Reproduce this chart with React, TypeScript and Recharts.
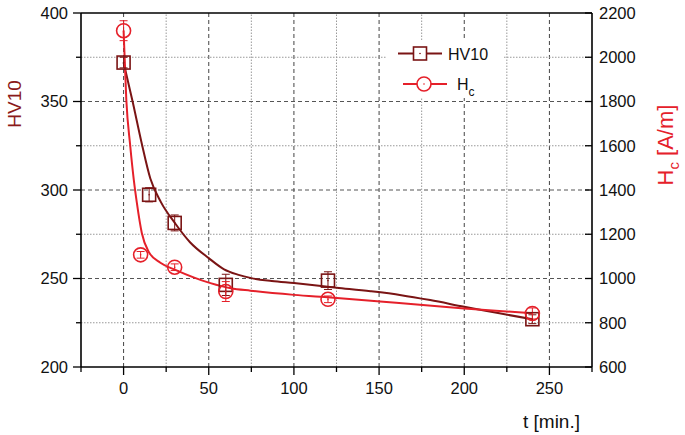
import React from 'react';
import { ComposedChart, Line, Scatter, ErrorBar, XAxis, YAxis, ReferenceLine } from 'recharts';

// measured points
const hvTimes = [0, 15, 30, 60, 120, 240];
const hvValues = [372, 297.3, 281.4, 246.4, 248.8, 227];
const hvErrors = [3, 4, 4.5, 6, 5, 2.5];

const hcTimes = [0, 10, 30, 60, 120, 240];
const hcValues = [2120, 1107, 1051, 941, 906, 842];
const hcErrors = [45, 15, 15, 45, 15, 25];

// fitted curves
const hvFitTimes = [0, 5.3, 10.5, 15.7, 22, 30, 39, 50, 59, 67, 75, 87, 100, 125, 145, 163, 180, 200, 240];
const hvFitValues = [372, 350, 327, 306.5, 293, 281.5, 270.5, 261.5, 255.2, 252.2, 250.2, 248.6, 247.4, 244.8, 242.8, 240.6, 237.8, 234, 227];

const hcFitTimes = [0, 1.6, 3.9, 6, 7.8, 10.7, 14.8, 21.6, 30.4, 51, 63, 74.5, 100, 121.6, 160, 200, 240];
const hcFitValues = [2120, 1808, 1600, 1446, 1342, 1206, 1120, 1071, 1039, 979, 956, 945, 926, 914, 890, 864, 843];

const xTicks = [-25, 0, 25, 50, 75, 100, 125, 150, 175, 200, 225, 250, 275];
const hvTicks = [200, 225, 250, 275, 300, 325, 350, 375, 400];
const hcTicks = [600, 800, 1000, 1200, 1400, 1600, 1800, 2000, 2200];
const xGridMajor = [0, 50, 100, 150, 200, 250];
const xGridMinor = [25, 75, 125, 175, 225];
const yGridMajor = [250, 300, 350];
const yGridMinor = [225, 275, 325, 375];

const HV_COLOR = '#7a1414';
const HC_COLOR = '#e5202a';
const FONT = '"Liberation Sans", Arial, sans-serif';
const TICK_FONT = 16.5;

const hvPoints = hvTimes.map((t, i) => ({ t, hv: hvValues[i], err: hvErrors[i] }));
const hcPoints = hcTimes.map((t, i) => ({ t, hc: hcValues[i], err: hcErrors[i] }));
const hvFit = hvFitTimes.map((t, i) => ({ t, hv: hvFitValues[i] }));
const hcFit = hcFitTimes.map((t, i) => ({ t, hc: hcFitValues[i] }));

const LeftTick = (props: any) => {
  const { x, y, payload } = props;
  const major = payload.value % 50 === 0;
  return (
    <g>
      <line x1={x} x2={x - (major ? 8 : 5)} y1={y} y2={y} stroke="#000" strokeWidth={1.3} />
      {major && (
        <text x={x - 13} y={y} dy="0.36em" textAnchor="end" fontSize={TICK_FONT} fontFamily={FONT} fill="#111">
          {payload.value}
        </text>
      )}
    </g>
  );
};

const RightTick = (props: any) => {
  const { x, y, payload } = props;
  return (
    <g>
      <line x1={x} x2={x - 7} y1={y} y2={y} stroke="#000" strokeWidth={1.3} />
      <text x={x + 7} y={y} dy="0.36em" textAnchor="start" fontSize={TICK_FONT} fontFamily={FONT} fill="#111">
        {payload.value}
      </text>
    </g>
  );
};

const BottomTick = (props: any) => {
  const { x, y, payload } = props;
  const v = payload.value;
  const major = v % 50 === 0;
  const labelled = major && v >= 0 && v <= 250;
  return (
    <g>
      <line x1={x} x2={x} y1={y} y2={y + (major ? 8 : 5)} stroke="#000" strokeWidth={1.3} />
      {labelled && (
        <text x={x} y={y + 21} dy="0.36em" textAnchor="middle" fontSize={TICK_FONT} fontFamily={FONT} fill="#111">
          {v}
        </text>
      )}
    </g>
  );
};

const SquareMark = (props: any) => {
  const { cx, cy } = props;
  return (
    <g>
      <rect x={cx - 6.5} y={cy - 6.5} width={13} height={13} fill="none" stroke={HV_COLOR} strokeWidth={1.6} />
      <circle cx={cx} cy={cy} r={0.8} fill={HV_COLOR} />
    </g>
  );
};

const CircleMark = (props: any) => {
  const { cx, cy } = props;
  return (
    <g>
      <circle cx={cx} cy={cy} r={7} fill="none" stroke={HC_COLOR} strokeWidth={1.6} />
      <circle cx={cx} cy={cy} r={0.8} fill={HC_COLOR} />
    </g>
  );
};

const Overlay = () => (
  <svg width={685} height={435} style={{ position: 'absolute', left: 0, top: 0, pointerEvents: 'none' }}>
    <text transform="translate(21,104) rotate(-90)" textAnchor="middle" fontSize={19} fontFamily={FONT} fill="#8b1a1a">
      HV10
    </text>
    <text transform="translate(673,145) rotate(-90)" textAnchor="middle" fontSize={22} fontFamily={FONT} fill={HC_COLOR}>
      H<tspan fontSize={15} dy={6}>c</tspan>
      <tspan dy={-6}> [A/m]</tspan>
    </text>
    <text x={580} y={428} textAnchor="end" fontSize={19} fontFamily={FONT} fill="#111">
      t [min.]
    </text>

    <rect x={386} y={40} width={117} height={58} fill="#fff" />
    <line x1={398} x2={442} y1={53.5} y2={53.5} stroke={HV_COLOR} strokeWidth={2} />
    <rect x={413.5} y={47} width={13} height={13} fill="#fff" stroke={HV_COLOR} strokeWidth={1.6} />
    <circle cx={420} cy={53.5} r={0.8} fill={HV_COLOR} />
    <text x={448} y={54} dy="0.36em" fontSize={16} fontFamily={FONT} fill="#111">
      HV10
    </text>
    <line x1={403} x2={447} y1={84} y2={84} stroke={HC_COLOR} strokeWidth={2} />
    <circle cx={424} cy={84} r={7} fill="#fff" stroke={HC_COLOR} strokeWidth={1.6} />
    <circle cx={424} cy={84} r={0.8} fill={HC_COLOR} />
    <text x={457} y={84} dy="0.36em" fontSize={16} fontFamily={FONT} fill="#111">
      H<tspan fontSize={12} dy={6}>c</tspan>
    </text>
  </svg>
);

export default function App() {
  return (
    <div style={{ position: 'absolute', left: 0, top: 0, width: 685, height: 435, background: '#fff' }}>
      <ComposedChart width={685} height={435} margin={{ top: 13, right: 13, bottom: 18, left: 11 }}>
        <XAxis
          dataKey="t"
          type="number"
          domain={[-25, 275]}
          ticks={xTicks}
          interval={0}
          height={50}
          tickSize={0}
          tickMargin={0}
          tickLine={false}
          tick={<BottomTick />}
          axisLine={{ stroke: '#000', strokeWidth: 1.6 }}
          allowDataOverflow
        />
        <YAxis
          yAxisId="hv"
          orientation="left"
          type="number"
          domain={[200, 400]}
          ticks={hvTicks}
          interval={0}
          width={70}
          tickSize={0}
          tickMargin={0}
          tickLine={false}
          tick={<LeftTick />}
          axisLine={{ stroke: '#000', strokeWidth: 1.6 }}
          allowDataOverflow
        />
        <YAxis
          yAxisId="hc"
          orientation="right"
          type="number"
          domain={[600, 2200]}
          ticks={hcTicks}
          interval={0}
          width={80}
          tickSize={0}
          tickMargin={0}
          tickLine={false}
          tick={<RightTick />}
          axisLine={{ stroke: '#000', strokeWidth: 1.6 }}
          allowDataOverflow
        />

        {xGridMinor.map((v) => (
          <ReferenceLine key={'xm' + v} x={v} yAxisId="hv" stroke="#999" strokeDasharray="1.5 1.5" />
        ))}
        {xGridMajor.map((v) => (
          <ReferenceLine key={'xM' + v} x={v} yAxisId="hv" stroke="#444" strokeDasharray="4 3" />
        ))}
        {yGridMinor.map((v) => (
          <ReferenceLine key={'ym' + v} y={v} yAxisId="hv" stroke="#999" strokeDasharray="1.5 1.5" />
        ))}
        {yGridMajor.map((v) => (
          <ReferenceLine key={'yM' + v} y={v} yAxisId="hv" stroke="#555" strokeDasharray="4 3" />
        ))}
        <ReferenceLine y={400} yAxisId="hv" stroke="#000" strokeWidth={1.6} />

        <Line
          data={hvFit}
          dataKey="hv"
          yAxisId="hv"
          type="monotone"
          stroke={HV_COLOR}
          strokeWidth={2}
          dot={false}
          activeDot={false}
          isAnimationActive={false}
        />
        <Line
          data={hcFit}
          dataKey="hc"
          yAxisId="hc"
          type="monotone"
          stroke={HC_COLOR}
          strokeWidth={2}
          dot={false}
          activeDot={false}
          isAnimationActive={false}
        />

        <Scatter data={hvPoints} dataKey="hv" yAxisId="hv" shape={<SquareMark />} isAnimationActive={false}>
          <ErrorBar dataKey="err" direction="y" width={4} stroke={HV_COLOR} strokeWidth={1} />
        </Scatter>
        <Scatter data={hcPoints} dataKey="hc" yAxisId="hc" shape={<CircleMark />} isAnimationActive={false}>
          <ErrorBar dataKey="err" direction="y" width={4} stroke={HC_COLOR} strokeWidth={1} />
        </Scatter>
      </ComposedChart>
      <Overlay />
    </div>
  );
}
